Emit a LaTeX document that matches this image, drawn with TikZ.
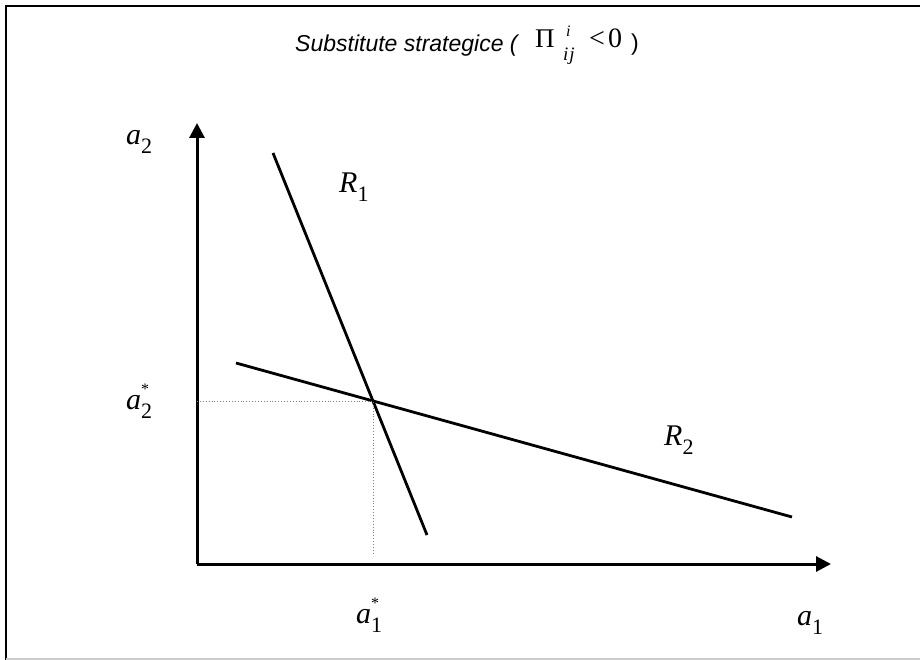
\documentclass[tikz,border=0pt]{standalone}
\usepackage{fontspec}
\setmainfont{Liberation Serif}
\newfontfamily\arialf{Liberation Sans}
\usetikzlibrary{arrows.meta}
\newcommand\mlab[3]{\textit{#1}\rlap{\raisebox{15pt}{\fontsize{16}{16}\selectfont #3}}\raisebox{-9pt}{\fontsize{22}{22}\selectfont #2}}
\tikzset{
  axis/.style={line width=3pt,-{Triangle[length=15pt,width=15pt]}},
  curve/.style={line width=2.8pt},
  guide/.style={line width=0.9pt,dotted,gray},
  lab/.style={inner sep=0pt,anchor=base west,font=\fontsize{30}{30}\selectfont},
  ttl/.style={inner sep=0pt,anchor=base west},
}
\begin{document}
\begin{tikzpicture}[x=1pt,y=-1pt]
\useasboundingbox (0,0) rectangle (920,660);
% frame
\draw[line width=2pt] (5,6) -- (920,6);
\draw[line width=2pt] (6,5) -- (6,660);
\draw[line width=1.5pt,black!20] (6,659) -- (920,659);
% axes
\coordinate (O) at (197,564);
\coordinate (Ytip) at (197,123);
\coordinate (Xtip) at (831,564);
\draw[axis] (O) -- (Ytip);
\draw[axis] (O) -- (Xtip);
% reaction curves
\coordinate (R1a) at (273,153);
\coordinate (R1b) at (427,535);
\coordinate (R2a) at (236,363);
\coordinate (R2b) at (792,517);
\draw[curve] (R1a) -- (R1b);
\draw[curve] (R2a) -- (R2b);
% equilibrium
\coordinate (E) at (373,401);
\coordinate (Ey) at (197,401);
\coordinate (Ex) at (373,555);
\draw[guide] (Ey) -- (E) -- (Ex);
% labels
\node[lab] (la2) at (126,145) {\mlab{a}{2}{}};
\node[lab] (lR1) at (339,193) {\mlab{R}{1}{}};
\node[lab] (la2s) at (126,409) {\mlab{a}{2}{*}};
\node[lab] (lR2) at (664,445) {\mlab{R}{2}{}};
\node[lab] (la1s) at (356,623) {\mlab{a}{1}{*}};
\node[lab] (la1) at (797,625) {\mlab{a}{1}{}};
% title
\node[ttl,font=\arialf\itshape\fontsize{23}{23}\selectfont] (t1) at (295,52) {Substitute strategice (};
\node[ttl,font=\fontsize{27}{27}\selectfont] (t2) at (535,48) {Π};
\node[ttl,font=\itshape\fontsize{16}{16}\selectfont] (t3) at (566,37) {i};
\node[ttl,font=\itshape\fontsize{19}{19}\selectfont] (t4) at (563,61) {i\kern1pt j};
\node[ttl,font=\fontsize{28}{28}\selectfont] (t5) at (589,48) {<};
\node[ttl,font=\fontsize{28}{28}\selectfont] (t6) at (608,48) {0};
\node[ttl,font=\arialf\fontsize{23}{23}\selectfont] (t7) at (631,51) {)};
\end{tikzpicture}
\end{document}
